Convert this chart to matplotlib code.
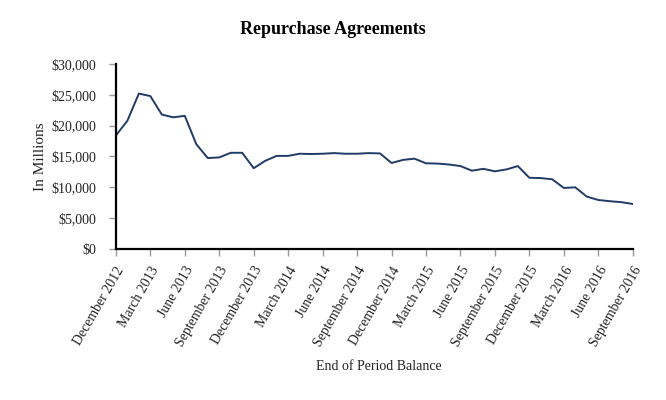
import matplotlib
matplotlib.use("Agg")
import matplotlib.pyplot as plt
from matplotlib.ticker import FuncFormatter

# monthly end of period balance, Dec 2012 .. Sep 2016 ($ millions)
months = ["December 2012", "January 2013", "February 2013", "March 2013", "April 2013",
          "May 2013", "June 2013", "July 2013", "August 2013", "September 2013",
          "October 2013", "November 2013", "December 2013", "January 2014", "February 2014",
          "March 2014", "April 2014", "May 2014", "June 2014", "July 2014", "August 2014",
          "September 2014", "October 2014", "November 2014", "December 2014", "January 2015",
          "February 2015", "March 2015", "April 2015", "May 2015", "June 2015", "July 2015",
          "August 2015", "September 2015", "October 2015", "November 2015", "December 2015",
          "January 2016", "February 2016", "March 2016", "April 2016", "May 2016",
          "June 2016", "July 2016", "August 2016", "September 2016"]
balance = [18400, 20800, 25200, 24800, 21800, 21350, 21600, 17000, 14750, 14850,
           15600, 15600, 13100, 14300, 15100, 15100, 15450, 15400, 15450, 15550,
           15450, 15450, 15550, 15500, 13950, 14450, 14650, 13900, 13850, 13700,
           13450, 12700, 13000, 12600, 12900, 13450, 11550, 11500, 11300, 9900,
           10000, 8500, 7950, 7750, 7600, 7300]

plt.rcParams['font.family'] = ['Liberation Serif', 'DejaVu Serif']

fig = plt.figure(figsize=(6.66, 4.0), dpi=100)
ax = fig.add_axes([0.174, 0.3775, 0.776, 0.4625])

x = list(range(len(balance)))
ax.plot(x, balance, color='#1f3b66', linewidth=1.4)

ax.set_xlim(0, len(balance) - 1)
ax.set_ylim(0, 30000)
ax.set_yticks(range(0, 30001, 5000))
ax.yaxis.set_major_formatter(FuncFormatter(lambda v, p: "${:,.0f}".format(v)))

ticks = x[::3]
ax.set_xticks(ticks)
ax.set_xticklabels([months[i] for i in ticks], rotation=60, ha='right',
                   rotation_mode='anchor', fontsize=10, color='#222222')
for lab in ax.get_yticklabels():
    lab.set_fontsize(10)
    lab.set_color('#222222')

for side in ['top', 'right']:
    ax.spines[side].set_visible(False)
for side in ['left', 'bottom']:
    ax.spines[side].set_linewidth(1.6)
    ax.spines[side].set_color('black')
ax.tick_params(axis='both', direction='out', length=5, width=1, color='#999999')
ax.tick_params(axis='y', pad=9)
ax.tick_params(axis='x', pad=6)

ax.set_ylabel("In Millions", fontsize=11, color='#222222', labelpad=3)
fig.text(0.569, 0.083, "End of Period Balance", ha='center', va='center',
         fontsize=10, color='#222222')
fig.text(0.5, 0.925, "Repurchase Agreements", ha='center', va='center',
         fontsize=13, fontweight='bold')

fig.savefig("out.png", dpi=100, facecolor='white')
